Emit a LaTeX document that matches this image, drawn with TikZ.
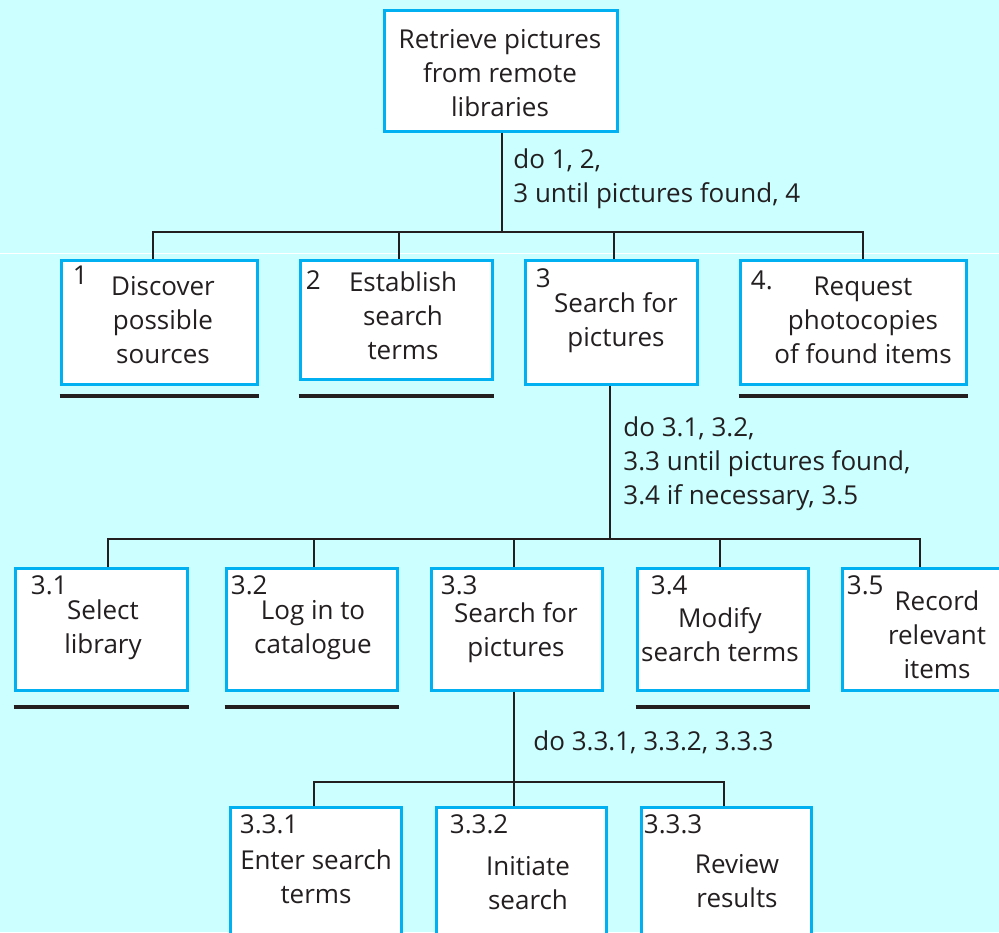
\documentclass[tikz,border=0pt]{standalone}
\usepackage{fontspec}
\setmainfont{Open Sans}
\usetikzlibrary{positioning,calc}
\definecolor{bgcyan}{RGB}{204,255,255}
\definecolor{boxblue}{RGB}{0,176,240}
\definecolor{ink}{RGB}{35,31,32}

\begin{document}
\begin{tikzpicture}[x=0.5pt, y=-0.5pt,
    box/.style={draw=boxblue, fill=white, line width=1.5pt, inner sep=0pt},
    txt/.style={align=center, inner sep=0pt, text=ink, font=\fontsize{13}{17}\selectfont},
    num/.style={anchor=west, inner sep=0pt, text=ink, font=\fontsize{13}{17}\selectfont},
    note/.style={anchor=west, align=left, inner sep=0pt, text=ink, font=\fontsize{13}{17}\selectfont},
    conn/.style={draw=ink, line width=0.7pt},
    uline/.style={draw=ink, line width=2pt}]
    % background
    \fill[bgcyan] (0,0) rectangle (999,932);
    \useasboundingbox (0,0) rectangle (999,932);
    \draw[white, line width=0.5pt] (0,253) -- (999,253);

    % junctions of the three buses
    \coordinate (j0) at (502,232);
    \coordinate (j1) at (610,539);
    \coordinate (j2) at (514,782);

    % boxes
    \node[box, minimum width=116.5pt, minimum height=60.5pt] (top) at (500.5,70.5) {};
    \node[box, minimum width=98pt, minimum height=62pt] (b1) at (159,322) {};
    \node[box, minimum width=96pt, minimum height=59.5pt] (b2) at (396,319.5) {};
    \node[box, minimum width=86pt, minimum height=62pt] (b3) at (611,322) {};
    \node[box, minimum width=113pt, minimum height=62pt] (b4) at (853,322) {};
    \node[box, minimum width=86pt, minimum height=61pt] (b31) at (101,629) {};
    \node[box, minimum width=85.5pt, minimum height=61pt] (b32) at (311.5,629) {};
    \node[box, minimum width=85.5pt, minimum height=61pt] (b33) at (516.5,629) {};
    \node[box, minimum width=85.5pt, minimum height=61pt] (b34) at (722.5,629) {};
    \node[box, minimum width=85.5pt, minimum height=61pt] (b35) at (927.5,629) {};
    \node[box, minimum width=85.5pt, minimum height=64pt] (b331) at (315.5,871) {};
    \node[box, minimum width=85pt, minimum height=64pt] (b332) at (521,871) {};
    \node[box, minimum width=85pt, minimum height=64pt] (b333) at (726,871) {};

    % connectors, level 1
    \draw[conn] (top.south -| j0) -- (j0);
    \draw[conn] (b1.north -| 153,0) |- (j0) -| (b4.north -| 863,0);
    \draw[conn] (b2.north -| 399,0) -- (j0 -| 399,0);
    \draw[conn] (b3.north -| 614,0) -- (j0 -| 614,0);
    % connectors, level 2
    \draw[conn] (b3.south -| j1) -- (j1);
    \draw[conn] (b31.north -| 108,0) |- (j1) -| (b35.north -| 920,0);
    \draw[conn] (b32.north -| 314,0) -- (j1 -| 314,0);
    \draw[conn] (b33.north -| 514,0) -- (j1 -| 514,0);
    \draw[conn] (b34.north -| 720,0) -- (j1 -| 720,0);
    % connectors, level 3
    \draw[conn] (b33.south -| j2) -- (b332.north -| j2);
    \draw[conn] (b331.north -| 314,0) |- (j2) -| (b333.north -| 724,0);

    % underlines
    \foreach \b/\d in {b1/10, b2/15, b4/10, b31/15, b32/15, b34/15}
        \draw[uline] ([yshift=-\d*0.5pt]\b.south west) -- ([yshift=-\d*0.5pt]\b.south east);

    % box texts
    \node[txt] (topt) at (500,73.5) {Retrieve pictures\\from remote\\libraries};
    \node[txt] (b1t) at (163,320) {Discover\\possible\\sources};
    \node[txt] (b2t) at (403,315.5) {Establish\\search\\terms};
    \node[txt] (b3t) at (616,323) {Search for\\pictures};
    \node[txt] (b4t) at (863,320.5) {Request\\photocopies\\of found items};
    \node[txt] (b31t) at (103,630) {Select\\library};
    \node[txt] (b32t) at (313,630) {Log in to\\catalogue};
    \node[txt] (b33t) at (516,632.5) {Search for\\pictures};
    \node[txt] (b34t) at (720,634.5) {Modify\\search terms};
    \node[txt] (b35t) at (937,635) {Record\\relevant\\items};
    \node[txt] (b331t) at (316,876.5) {Enter search\\terms};
    \node[txt] (b332t) at (528,883) {Initiate\\search};
    \node[txt] (b333t) at (737,881) {Review\\results};

    % numbers
    \node[num] (n1) at ([shift={(13,17)}]b1.north west) {1};
    \node[num] (n2) at ([shift={(7,22)}]b2.north west) {2};
    \node[num] (n3) at ([shift={(12,20)}]b3.north west) {3};
    \node[num] (n4) at ([shift={(12,22)}]b4.north west) {4.};
    \node[num] (n31) at ([shift={(17,19)}]b31.north west) {3.1};
    \node[num] (n32) at ([shift={(6,19)}]b32.north west) {3.2};
    \node[num] (n33) at ([shift={(11,19)}]b33.north west) {3.3};
    \node[num] (n34) at ([shift={(15,19)}]b34.north west) {3.4};
    \node[num] (n35) at ([shift={(6,19)}]b35.north west) {3.5};
    \node[num] (n331) at ([shift={(11,19)}]b331.north west) {3.3.1};
    \node[num] (n332) at ([shift={(15,19)}]b332.north west) {3.3.2};
    \node[num] (n333) at ([shift={(4,19)}]b333.north west) {3.3.3};

    % conditions
    \node[note] (c0) at (513,179) {do 1, 2,\\3 until pictures found, 4};
    \node[note] (c1) at (623,464) {do 3.1, 3.2,\\3.3 until pictures found,\\3.4 if necessary, 3.5};
    \node[note] (c2) at (533,742) {do 3.3.1, 3.3.2, 3.3.3};
\end{tikzpicture}
\end{document}
